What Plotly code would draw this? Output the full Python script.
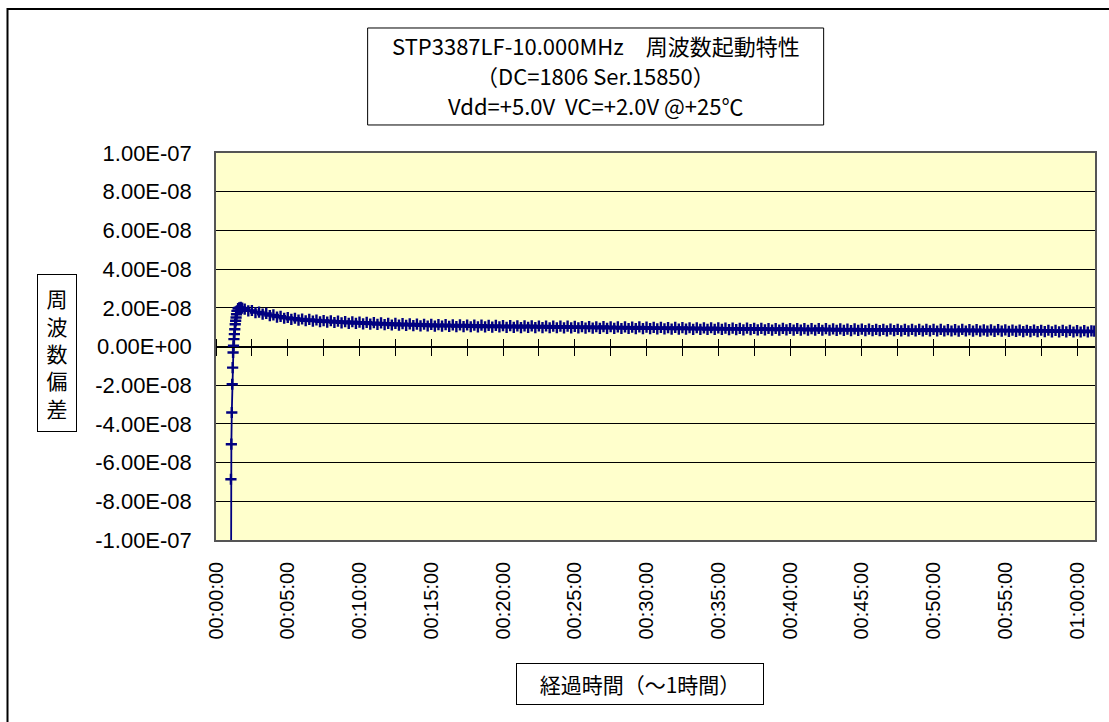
import plotly.graph_objects as go

# ---------------- data ----------------
# rise section (minutes, deviation in 1e-9 units)
rise_minutes = [1.00, 1.04, 1.07, 1.10, 1.13, 1.16, 1.19, 1.22, 1.25, 1.28,
                1.31, 1.34, 1.37, 1.40, 1.43, 1.46, 1.54, 1.62, 1.72, 1.82]
rise_values = [-280.0, -68.6, -50.5, -34.1, -19.5, -10.9, -3.1, 0.4, 3.8, 6.4,
               8.9, 11.5, 13.3, 15.0, 16.7, 18.4, 19.6, 20.0, 20.2, 19.8]

# steady section, sampled every 0.25 min starting at 2.00 min (1e-9 units)
steady_start_min = 2.0
steady_step_min = 0.25
steady_values = [
    19.3, 18.4, 18.6, 17.5, 17.8, 16.7, 17.1, 16.0, 16.3, 15.2,
    15.6, 14.6, 15.0, 14.0, 14.6, 13.6, 14.2, 13.3, 14.0, 13.1,
    13.7, 12.8, 13.4, 12.6, 13.3, 12.4, 13.1, 12.2, 12.9, 12.0,
    12.8, 11.9, 12.6, 11.7, 12.5, 11.6, 12.3, 11.4, 12.2, 11.3,
    12.0, 11.1, 11.9, 11.0, 11.8, 10.9, 11.7, 10.8, 11.6, 10.7,
    11.5, 10.6, 11.4, 10.5, 11.3, 10.5, 11.3, 10.4, 11.2, 10.3,
    11.2, 10.3, 11.1, 10.2, 11.0, 10.1, 11.0, 10.1, 10.9, 10.0,
    10.9, 10.1, 10.8, 9.9, 10.8, 9.9, 10.7, 9.8, 10.7, 9.9,
    10.7, 9.8, 10.6, 9.8, 10.6, 9.7, 10.5, 9.7, 10.5, 9.6,
    10.5, 9.6, 10.4, 9.6, 10.3, 9.5, 10.3, 9.5, 10.2, 9.4,
    10.3, 9.4, 10.2, 9.4, 10.1, 9.3, 10.1, 9.3, 10.0, 9.2,
    10.1, 9.2, 10.0, 9.2, 9.9, 9.1, 9.9, 9.1, 9.8, 9.0,
    9.9, 9.0, 9.8, 9.0, 9.7, 8.9, 9.7, 8.9, 9.6, 8.8,
    9.7, 8.8, 9.6, 8.8, 9.5, 8.7, 9.5, 8.7, 9.4, 8.6,
    9.5, 8.7, 9.4, 8.6, 9.4, 8.6, 9.3, 8.5, 9.3, 8.5,
    9.4, 8.6, 9.3, 8.5, 9.3, 8.5, 9.2, 8.4, 9.2, 8.4,
    9.3, 8.4, 9.2, 8.4, 9.1, 8.3, 9.1, 8.3, 9.0, 8.2,
    9.1, 8.3, 9.0, 8.2, 9.0, 8.2, 8.9, 8.2, 8.9, 8.1,
    9.0, 8.2, 8.9, 8.1, 8.9, 8.1, 8.8, 8.1, 8.8, 8.0,
    8.9, 8.1, 8.8, 8.0, 8.8, 8.0, 8.7, 8.0, 8.7, 7.9,
    8.8, 8.0, 8.7, 7.9, 8.7, 7.9, 8.6, 7.9, 8.6, 7.8,
    8.7, 7.9, 8.6, 7.8, 8.5, 7.8, 8.5, 7.7, 8.4, 7.7,
    8.5, 7.7, 8.4, 7.7, 8.4, 7.6, 8.3, 7.6, 8.3, 7.6,
    8.3, 7.5, 8.2, 7.5, 8.2, 7.5, 8.1,
]
tail_minutes = [61.2]
tail_values = [7.9]

value_unit = 1e-9

x_tick_minutes = [0, 5, 10, 15, 20, 25, 30, 35, 40, 45, 50, 55, 60]
x_tick_labels = ["00:00:00", "00:05:00", "00:10:00", "00:15:00", "00:20:00",
                 "00:25:00", "00:30:00", "00:35:00", "00:40:00", "00:45:00",
                 "00:50:00", "00:55:00", "01:00:00"]
y_tick_values = [1e-7, 8e-8, 6e-8, 4e-8, 2e-8, 0, -2e-8, -4e-8, -6e-8, -8e-8, -1e-7]
y_tick_labels = ["1.00E-07", "8.00E-08", "6.00E-08", "4.00E-08", "2.00E-08",
                 "0.00E+00", "-2.00E-08", "-4.00E-08", "-6.00E-08", "-8.00E-08",
                 "-1.00E-07"]

title_lines = ["STP3387LF-10.000MHz\u3000周波数起動特性",
               "（DC=1806 Ser.15850）",
               "Vdd=+5.0V  VC=+2.0V @+25℃"]
y_title = "周波数偏差"
x_title = "経過時間（〜1時間）"

# ---------------- assemble ----------------
steady_minutes = [steady_start_min + i * steady_step_min for i in range(len(steady_values))]
t_all = rise_minutes + steady_minutes + tail_minutes
v_all = [v * value_unit for v in rise_values + steady_values + tail_values]

X_RANGE = [0, 61.25]
Y_RANGE = [-1e-7, 1e-7]
NAVY = "#000080"
FONT_LATIN = "Liberation Sans, Arial, sans-serif"
FONT_JP = "Noto Sans CJK JP, sans-serif"

fig = go.Figure()
fig.add_trace(go.Scatter(
    x=t_all, y=v_all, mode="lines+markers",
    line=dict(color=NAVY, width=1.8),
    marker=dict(symbol="cross-thin", size=8, line=dict(color=NAVY, width=2.4)),
    showlegend=False, xaxis="x", yaxis="y",
))

fig.update_layout(
    width=1109, height=722,
    margin=dict(l=216, r=12, t=153, b=182),
    paper_bgcolor="white",
    plot_bgcolor="#FFFFCC",
    font=dict(family=FONT_LATIN, color="black", size=20),
    xaxis=dict(
        range=X_RANGE, tickmode="array", tickvals=x_tick_minutes, ticktext=x_tick_labels,
        tickangle=-90, ticks="", showgrid=False, zeroline=False,
        showline=True, mirror=True, linecolor="#555555", linewidth=1.5,
        tickfont=dict(family=FONT_LATIN, size=20), ticklabelstandoff=12,
    ),
    xaxis2=dict(
        range=X_RANGE, overlaying="x", anchor="free", position=0.5, side="bottom",
        tick0=0, dtick=2.5, ticks="outside", ticklen=8, tickwidth=1.2, tickcolor="black",
        showticklabels=False, showgrid=False, zeroline=False,
        showline=True, linecolor="black", linewidth=1,
    ),
    xaxis3=dict(
        range=X_RANGE, overlaying="x", anchor="free", position=0.5, side="top",
        tick0=0, dtick=2.5, ticks="outside", ticklen=8, tickwidth=1.2, tickcolor="black",
        showticklabels=False, showgrid=False, zeroline=False, showline=False,
    ),
    yaxis=dict(
        range=Y_RANGE, tickmode="array", tickvals=y_tick_values, ticktext=y_tick_labels,
        ticks="", showgrid=True, gridcolor="black", gridwidth=1, zeroline=False,
        showline=True, mirror=True, linecolor="#555555", linewidth=1.5,
        tickfont=dict(family=FONT_LATIN, size=22), ticklabelstandoff=18,
    ),
)

# dummy traces to realise the overlay tick axes
fig.add_trace(go.Scatter(x=[None], y=[None], xaxis="x2", yaxis="y", showlegend=False, hoverinfo="skip"))
fig.add_trace(go.Scatter(x=[None], y=[None], xaxis="x3", yaxis="y", showlegend=False, hoverinfo="skip"))

# chart title box (frame + one annotation per line)
fig.add_shape(type="rect", xref="paper", yref="paper",
              x0=0.1725, y0=1.0724, x1=0.6913, y1=1.3230,
              line=dict(color="black", width=1), fillcolor="white", layer="above")
title_line_y = [1.2791, 1.2016, 1.1240]
for line_text, ly in zip(title_lines, title_line_y):
    fig.add_annotation(
        text=line_text, xref="paper", yref="paper",
        x=0.432, y=ly, xanchor="center", yanchor="middle", showarrow=False,
        font=dict(family=FONT_JP, size=22, color="black"),
    )
# y title box
fig.add_annotation(
    text="<br>".join(list(y_title)), xref="paper", yref="paper",
    x=-0.181, y=0.483, xanchor="center", yanchor="middle", showarrow=False,
    font=dict(family=FONT_JP, size=21, color="black"),
    bordercolor="black", borderwidth=1, borderpad=4, bgcolor="white",
    width=30, height=148, align="center",
)
# x title box
fig.add_annotation(
    text=x_title, xref="paper", yref="paper",
    x=0.482, y=-0.371, xanchor="center", yanchor="middle", showarrow=False,
    font=dict(family=FONT_JP, size=21, color="black"),
    bordercolor="black", borderwidth=1, borderpad=4, bgcolor="white",
    width=238, height=32, align="center",
)
# outer chart border
fig.add_shape(type="rect", xref="paper", yref="paper",
              x0=-0.2372, y0=-0.6, x1=1.1, y1=1.372,
              line=dict(color="black", width=2), layer="above")

fig.write_html("out.html", config={"displayModeBar": False},
               post_script="document.body.style.margin='0px';document.body.style.overflow='hidden';")
